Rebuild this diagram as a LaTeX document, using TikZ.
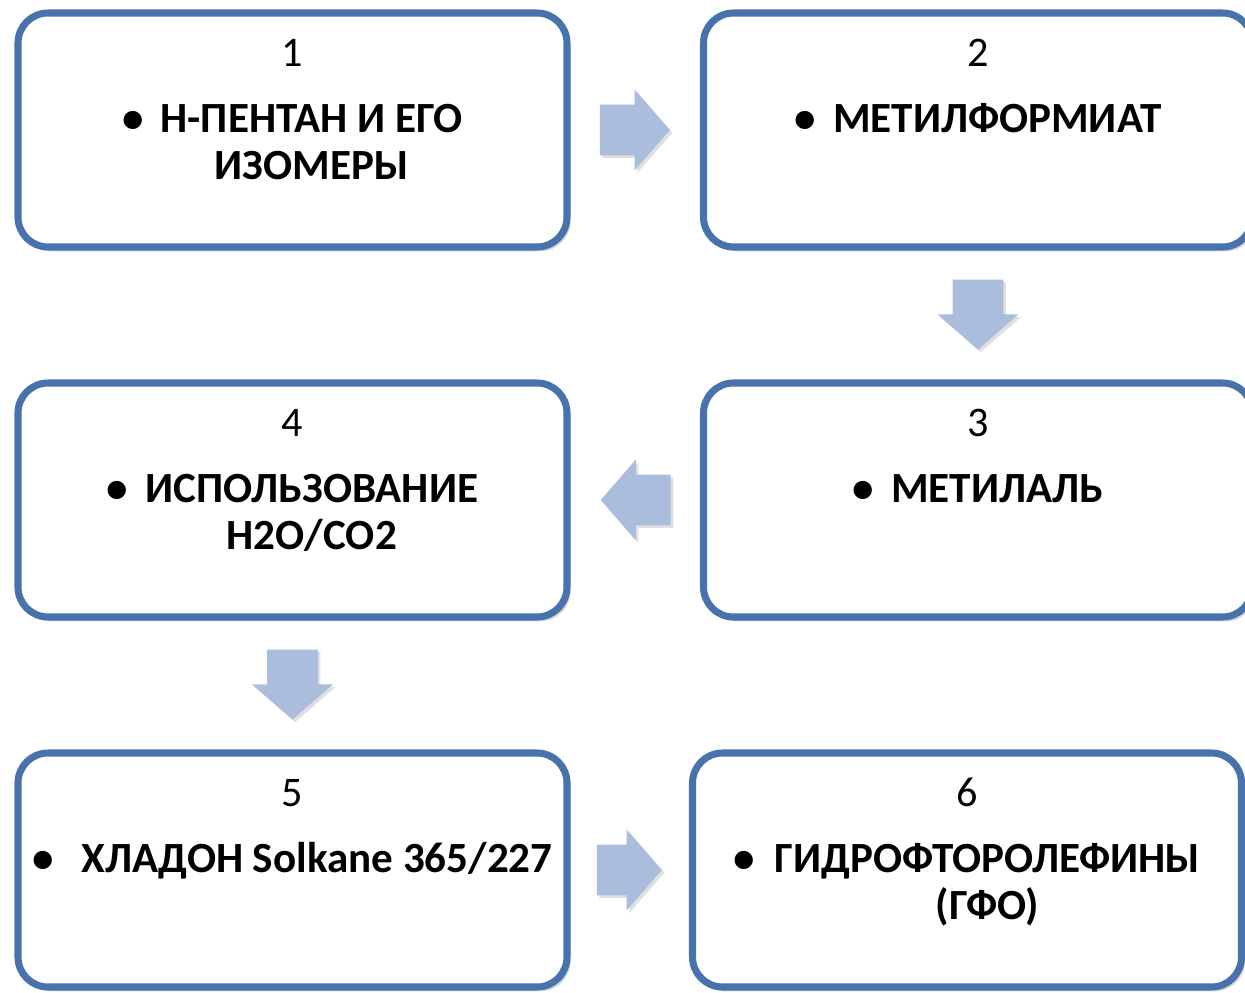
\documentclass[tikz,border=0pt]{standalone}
\usepackage{fontspec}
\setmainfont{Carlito}
\usetikzlibrary{shapes.arrows,shadows,calc}
\definecolor{boxblue}{RGB}{72,114,171}
\definecolor{arrowblue}{RGB}{171,189,221}
% bullet with a centred block of lines hanging after it
\newcommand\bulitem[2][0.4em]{\textbullet\hspace{#1}\begin{tabular}[t]{@{}c@{}}#2\end{tabular}}

\begin{document}
\begin{tikzpicture}[
    box/.style={draw=boxblue, line width=4pt, fill=white, rounded corners=0.6cm,
      minimum width=10.98cm, minimum height=4.68cm, inner sep=0pt,
      drop shadow={shadow xshift=2pt, shadow yshift=-2.5pt, opacity=0.3}},
    num/.style={anchor=base, font=\fontsize{24}{26}\selectfont},
    item/.style={anchor=base, font=\bfseries\fontsize{24.5}{26.5}\selectfont},
    flow/.style={single arrow, draw=none, fill=arrowblue, anchor=tip,
      inner xsep=0pt, inner ysep=0.5cm, minimum height=1.4cm,
      single arrow head extend=0.3cm, single arrow tip angle=98,
      drop shadow={shadow xshift=1.5pt, shadow yshift=-1.5pt, opacity=0.25}}
  ]
    \useasboundingbox (0,0) rectangle (24.9,-19.86);
    \coordinate (C1) at (5.85,-2.6);
    \coordinate (C2) at (19.56,-2.6);
    \coordinate (C3) at (19.56,-10);
    \coordinate (C4) at (5.85,-10);
    \coordinate (C5) at (5.85,-17.4);
    \coordinate (C6) at (19.34,-17.4);
    \node [box] (b1) at (C1) {};
    \node [box] (b2) at (C2) {};
    \node [box] (b3) at (C3) {};
    \node [box] (b4) at (C4) {};
    \node [box] (b5) at (C5) {};
    \node [box] (b6) at (C6) {};
    \node [num] (n1) at ([yshift=-1.15cm]b1.north) {1};
    \node [num] (n2) at ([yshift=-1.15cm]b2.north) {2};
    \node [num] (n3) at ([yshift=-1.15cm]b3.north) {3};
    \node [num] (n4) at ([yshift=-1.15cm]b4.north) {4};
    \node [num] (n5) at ([yshift=-1.15cm]b5.north) {5};
    \node [num] (n6) at ([yshift=-1.15cm]b6.north) {6};
    \node [item] (t1) at ([yshift=-2.46cm]b1.north) {\bulitem{Н-ПЕНТАН И ЕГО\\ИЗОМЕРЫ}};
    \node [item] (t2) at ([yshift=-2.46cm]b2.north) {\bulitem{МЕТИЛФОРМИАТ}};
    \node [item] (t3) at ([yshift=-2.46cm]b3.north) {\bulitem{МЕТИЛАЛЬ}};
    \node [item] (t4) at ([yshift=-2.46cm]b4.north) {\bulitem{ИСПОЛЬЗОВАНИЕ\\H2O/CO2}};
    \node [item] (t5) at ([yshift=-2.46cm]b5.north) {\bulitem[0.65em]{ХЛАДОН Solkane 365/227}};
    \node [item] (t6) at ([yshift=-2.46cm]b6.north) {\bulitem[0.45em]{ГИДРОФТОРОЛЕФИНЫ\\(ГФО)}};
    \node [flow] (a12) at ($(b1.east)!0.5!(b2.west)+(0.7,0)$) {};
    \node [flow, rotate=-90] (a23) at ($(b2.south)!0.5!(b3.north)+(0,-0.7)$) {};
    \node [flow, rotate=180] (a34) at ($(b3.west)!0.5!(b4.east)+(-0.7,0)$) {};
    \node [flow, rotate=-90] (a45) at ($(b4.south)!0.5!(b5.north)+(0,-0.7)$) {};
    \node [flow, minimum height=1.3cm] (a56) at ($(b5.east)!0.5!(b6.west)+(0.65,0)$) {};
\end{tikzpicture}
\end{document}
